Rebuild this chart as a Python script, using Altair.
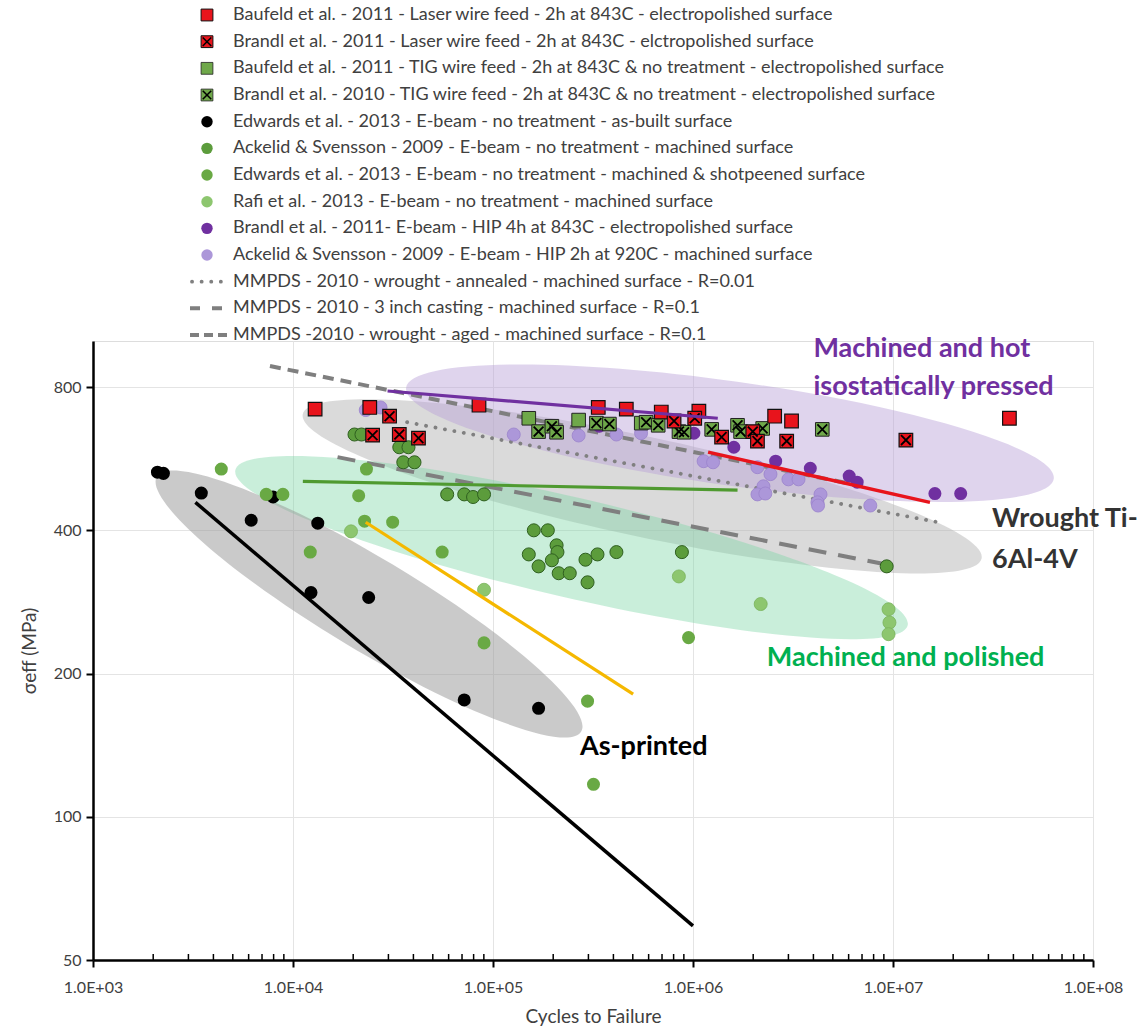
import altair as alt
import pandas as pd

# ---------------- data: cycles to failure (N) and effective stress (MPa) ----------------
baufeld_laser_N = [12900, 24200, 85100, 336000, 464000, 694000, 1070000, 2560000, 3110000, 38200000]
baufeld_laser_S = [719, 725, 733, 725, 719, 709, 712, 695, 679, 688]

brandl_laser_N = [25000, 30400, 34000, 42400, 804000, 1020000, 1390000, 1990000, 2100000, 2940000, 11600000]
brandl_laser_S = [634, 695, 636, 625, 679, 688, 628, 645, 616, 616, 619]

baufeld_tig_N = [151000, 268000, 551000]
baufeld_tig_S = [688, 682, 672]

brandl_tig_N = [169000, 197000, 208000, 329000, 382000, 583000, 670000, 851000, 902000,
                1240000, 1670000, 1730000, 2230000, 4430000]
brandl_tig_S = [645, 662, 643, 672, 669, 675, 665, 645, 643, 652, 665, 645, 655, 652]

edwards_built_N = [2100, 2250, 3480, 6180, 7950, 13300, 12300, 23900, 71800, 169000]
edwards_built_S = [530, 527, 479, 420, 470, 414, 296, 289, 176, 169]

ackelid_mach_N = [20300, 22000, 34000, 37800, 35600, 40500, 59000, 71800, 79500, 90200, 151000,
                  160000, 188000, 208000, 210000, 197000, 169000, 213000, 242000, 290000, 297000,
                  333000, 414000, 880000, 9300000]
ackelid_mach_S = [636, 636, 598, 598, 556, 556, 476, 476, 470, 476, 356, 400, 400, 372, 360, 346,
                  336, 325, 325, 347, 311, 356, 360, 360, 336]

edwards_shot_N = [4380, 7350, 8900, 21300, 23300, 22800, 31500, 12200, 55700, 90200, 297000, 318000, 950000]
edwards_shot_S = [538, 476, 476, 473, 538, 418, 416, 360, 360, 232, 175, 117, 238]

rafi_N = [19500, 90200, 850000, 2180000, 9500000, 9600000, 9500000]
rafi_S = [398, 300, 320, 280, 273, 256, 242]

brandl_hip_N = [340000, 1010000, 1600000, 2590000, 3860000, 6040000, 6620000, 16200000, 21800000]
brandl_hip_S = [662, 640, 598, 559, 540, 520, 505, 478, 478]

ackelid_hip_N = [23100, 27400, 127000, 268000, 414000, 550000, 1130000, 1260000, 2100000, 2440000,
                 3000000, 3370000, 2250000, 2100000, 2300000, 4340000, 4190000, 4220000, 7700000]
ackelid_hip_S = [716, 725, 636, 633, 636, 640, 559, 556, 543, 525, 512, 512, 495, 476, 478, 476,
                 458, 451, 451]

# trend lines
trend_asbuilt_N, trend_asbuilt_S = [3250, 1000000], [458, 59]
trend_shot_N, trend_shot_S = [23100, 502000], [416, 181]
trend_mach_N, trend_mach_S = [11200, 1670000], [507, 486]
trend_hip_N, trend_hip_S = [29700, 1330000], [785, 688]
trend_laser_N, trend_laser_S = [1190000, 15300000], [584, 458]

# MMPDS reference curves
mmpds_annealed_N, mmpds_annealed_S = [37200, 16800000], [675, 416]
mmpds_casting_N, mmpds_casting_S = [16700, 9300000], [570, 339]
mmpds_aged_N, mmpds_aged_S = [7670, 7400000], [886, 493]

# shaded regions (centre of each region)
region_asprinted = ([24000], [280])
region_wrought = ([557000], [495])
region_polished = ([247000], [368])
region_hip = ([1530000], [640])

# annotation labels
annotations = [
    ("Machined and hot", 4.0e6, 962, "#7030a0"),
    ("isostatically pressed", 4.0e6, 800, "#7030a0"),
    ("Wrought Ti-", 3.13e7, 422, "#333333"),
    ("6Al-4V", 3.13e7, 347, "#333333"),
    ("Machined and polished", 2.34e6, 216, "#00b050"),
    ("As-printed", 2.72e5, 140, "#000000"),
]

legend_labels = [
    "Baufeld et al. - 2011 - Laser wire feed - 2h at 843C - electropolished surface",
    "Brandl et al. - 2011 - Laser wire feed - 2h at 843C - elctropolished surface",
    "Baufeld et al. - 2011 - TIG wire feed - 2h at 843C & no treatment - electropolished surface",
    "Brandl et al. - 2010 - TIG wire feed - 2h at 843C & no treatment - electropolished surface",
    "Edwards et al. - 2013 - E-beam - no treatment - as-built surface",
    "Ackelid & Svensson - 2009 - E-beam - no treatment - machined surface",
    "Edwards et al. - 2013 - E-beam - no treatment - machined & shotpeened surface",
    "Rafi et al. - 2013 - E-beam - no treatment - machined surface",
    "Brandl et al. - 2011- E-beam - HIP 4h at 843C - electropolished surface",
    "Ackelid & Svensson - 2009 - E-beam - HIP 2h at 920C - machined surface",
    "MMPDS - 2010 - wrought - annealed - machined surface - R=0.01",
    "MMPDS - 2010 - 3 inch casting - machined surface - R=0.1",
    "MMPDS -2010 - wrought - aged - machined surface - R=0.1",
]

x_major = [1e3, 1e4, 1e5, 1e6, 1e7, 1e8]
x_minor = [m * 10 ** k for k in range(3, 8) for m in range(2, 10)]
y_major = [50, 100, 200, 400, 800]

# ---------------- styling helpers ----------------
FONT = "Lato"
TXT = "#404040"
W, H = 1000, 619

X_SCALE = alt.Scale(type="log", domain=[1e3, 1e8], nice=False)
Y_SCALE = alt.Scale(type="log", domain=[50, 1000], nice=False)

X_AXIS = alt.Axis(values=x_major, labelExpr="'1.0E+0' + round(log(datum.value)/LN10)",
                  title="Cycles to Failure", grid=True, gridColor="#e4e4e4", gridWidth=1,
                  domainColor="black", domainWidth=2.5, tickColor="black", tickWidth=2, tickSize=7,
                  labelFontSize=16, labelColor=TXT, labelFont=FONT, labelFlush=False,
                  labelOverlap=False, labelPadding=12, titleFontSize=19, titleColor=TXT,
                  titleFont=FONT, titleFontWeight="normal", titlePadding=12)
Y_AXIS = alt.Axis(values=y_major, format="d", title="σeff (MPa)", grid=True, gridColor="#e4e4e4",
                  gridWidth=1, domainColor="black", domainWidth=2.5, tickColor="black", tickWidth=2,
                  tickSize=7, labelFontSize=16, labelColor=TXT, labelFont=FONT, labelPadding=5,
                  titleFontSize=19, titleColor=TXT, titleFont=FONT, titleFontWeight="normal",
                  titlePadding=14)

XE = alt.X("N:Q", scale=X_SCALE, axis=X_AXIS)
YE = alt.Y("S:Q", scale=Y_SCALE, axis=Y_AXIS)


def frame(N, S):
    return pd.DataFrame({"N": N, "S": S})


def ellipse_path(k):
    c = 0.5523
    return (f"M1,0 C1,{c*k:.4f} {c:.4f},{k:.4f} 0,{k:.4f} "
            f"C{-c:.4f},{k:.4f} -1,{c*k:.4f} -1,0 "
            f"C-1,{-c*k:.4f} {-c:.4f},{-k:.4f} 0,{-k:.4f} "
            f"C{c:.4f},{-k:.4f} 1,{-c*k:.4f} 1,0 Z")


X_PATH = "M-0.72,-0.72 L0.72,0.72 M-0.72,0.72 L0.72,-0.72"


def region(data, length, minor, angle, color, op):
    return alt.Chart(frame(*data)).mark_point(
        shape=ellipse_path(minor / length), size=length ** 2, angle=angle, filled=True,
        fill=color, fillOpacity=op, strokeWidth=0, opacity=1).encode(x=XE, y=YE)


def line(N, S, color, width, dash=None, cap="butt"):
    kw = dict(color=color, strokeWidth=width, strokeCap=cap)
    if dash:
        kw["strokeDash"] = dash
    return alt.Chart(frame(N, S)).mark_line(**kw).encode(x=XE, y=YE)


def pts(N, S, shape, fill, size, stroke=None, sw=0.0):
    kw = dict(shape=shape, filled=True, fill=fill, size=size, opacity=1)
    if stroke:
        kw["stroke"] = stroke
        kw["strokeWidth"] = sw
    else:
        kw["strokeWidth"] = 0
    return alt.Chart(frame(N, S)).mark_point(**kw).encode(x=XE, y=YE)


def xmarks(N, S, size):
    return alt.Chart(frame(N, S)).mark_point(
        shape=X_PATH, filled=False, stroke="black", strokeWidth=1.8, size=size, opacity=1
    ).encode(x=XE, y=YE)


# ---------------- layers ----------------
layers = []

# shaded regions
layers.append(region(region_wrought, 694, 100, 12, "#b0b0b0", 0.47))
layers.append(region(region_polished, 690, 100, 13, "#7fd6a6", 0.42))
layers.append(region(region_hip, 654, 104, 8, "#b9a0d6", 0.45))
layers.append(region(region_asprinted, 495, 92, 31, "#9a9a9a", 0.52))

# minor ticks on x axis
layers.append(alt.Chart(pd.DataFrame({"N": x_minor})).mark_rule(color="black", strokeWidth=1.5)
              .encode(x=XE, y=alt.value(H - 6), y2=alt.value(H)))

# MMPDS curves
layers.append(line(mmpds_annealed_N, mmpds_annealed_S, "#808080", 3.8, [0.1, 9.5], "round"))
layers.append(line(mmpds_casting_N, mmpds_casting_S, "#7f7f7f", 4, [18, 12]))
layers.append(line(mmpds_aged_N, mmpds_aged_S, "#7f7f7f", 4, [11, 7]))

# data points
PS = 170
layers.append(pts(edwards_built_N, edwards_built_S, "circle", "#000000", PS))
layers.append(pts(rafi_N, rafi_S, "circle", "#8dc66f", PS, "#7ab35c", 0.8))
layers.append(pts(edwards_shot_N, edwards_shot_S, "circle", "#69a944", PS))
layers.append(pts(ackelid_mach_N, ackelid_mach_S, "circle", "#5c9c3c", PS, "#2f5f20", 1))
layers.append(pts(ackelid_hip_N, ackelid_hip_S, "circle", "#ac97d9", PS, "#9a83cb", 0.8))
layers.append(pts(brandl_hip_N, brandl_hip_S, "circle", "#7030a0", PS))
layers.append(pts(baufeld_tig_N, baufeld_tig_S, "square", "#6fa84a", 185, "#222222", 1))
layers.append(pts(brandl_tig_N, brandl_tig_S, "square", "#6fa84a", 185, "#222222", 1))
layers.append(xmarks(brandl_tig_N, brandl_tig_S, 185))
layers.append(pts(baufeld_laser_N, baufeld_laser_S, "square", "#e8141c", 185, "#111111", 1.2))
layers.append(pts(brandl_laser_N, brandl_laser_S, "square", "#e8141c", 185, "#111111", 1.2))
layers.append(xmarks(brandl_laser_N, brandl_laser_S, 185))

# trend lines
layers.append(line(trend_asbuilt_N, trend_asbuilt_S, "#000000", 3.5))
layers.append(line(trend_shot_N, trend_shot_S, "#f5b800", 3.2))
layers.append(line(trend_mach_N, trend_mach_S, "#4f9a30", 3.2))
layers.append(line(trend_hip_N, trend_hip_S, "#7030a0", 3.2))
layers.append(line(trend_laser_N, trend_laser_S, "#e8141c", 3.5))

# annotations
for txt, n, s, col in annotations:
    layers.append(alt.Chart(pd.DataFrame({"N": [n], "S": [s], "t": [txt]})).mark_text(
        align="left", baseline="middle", fontSize=27, fontWeight="bold", font=FONT, color=col
    ).encode(x=XE, y=YE, text="t:N"))

# ---------------- legend (drawn above the plot area) ----------------
LEG_TOP, LEG_STEP = -326, 26.67
LEG_Y = alt.Y("ly:Q", scale=None, axis=None)
ly_expr = f"{LEG_TOP} + {LEG_STEP} * datum.row"
SYM_X, TXT_X = 114, 140


def leg(rows, extra=None):
    d = {"row": rows}
    if extra:
        d.update(extra)
    return alt.Chart(pd.DataFrame(d)).transform_calculate(ly=ly_expr)


layers.append(leg(list(range(len(legend_labels))), {"label": legend_labels}).mark_text(
    align="left", baseline="middle", fontSize=18, font=FONT, color=TXT
).encode(x=alt.value(TXT_X), y=LEG_Y, text="label:N"))

layers.append(leg([0, 1]).mark_point(shape="square", filled=True, fill="#e8141c", size=140,
                                     stroke="#111111", strokeWidth=1, opacity=1)
              .encode(x=alt.value(SYM_X), y=LEG_Y))
layers.append(leg([2, 3]).mark_point(shape="square", filled=True, fill="#6fa84a", size=140,
                                     stroke="#222222", strokeWidth=0.8, opacity=1)
              .encode(x=alt.value(SYM_X), y=LEG_Y))
layers.append(leg([1, 3]).mark_point(shape=X_PATH, filled=False, stroke="black", strokeWidth=1.5,
                                     size=140, opacity=1)
              .encode(x=alt.value(SYM_X), y=LEG_Y))
layers.append(leg([4, 5, 6, 7, 8, 9],
                  {"c": ["#000000", "#5c9c3c", "#69a944", "#8dc66f", "#7030a0", "#ac97d9"]})
              .mark_point(shape="circle", filled=True, size=130, opacity=1, strokeWidth=0)
              .encode(x=alt.value(SYM_X), y=LEG_Y, fill=alt.Fill("c:N", scale=None)))
layers.append(leg([10]).mark_rule(color="#808080", strokeWidth=3.8, strokeDash=[0.1, 9.5],
                                  strokeCap="round")
              .encode(x=alt.value(99), x2=alt.value(137), y=LEG_Y))
layers.append(leg([11]).mark_rule(color="#7f7f7f", strokeWidth=4, strokeDash=[10, 12])
              .encode(x=alt.value(97), x2=alt.value(137), y=LEG_Y))
layers.append(leg([12]).mark_rule(color="#7f7f7f", strokeWidth=4, strokeDash=[9, 5])
              .encode(x=alt.value(97), x2=alt.value(137), y=LEG_Y))

chart = alt.layer(*layers).properties(
    width=W, height=H,
    autosize=alt.AutoSizeParams(type="none"),
    padding={"left": 93, "top": 341, "right": 49, "bottom": 74},
    background="white",
).configure_view(stroke=None).configure(font=FONT)

chart.save("out.html", embed_options={"renderer": "svg", "actions": False})
